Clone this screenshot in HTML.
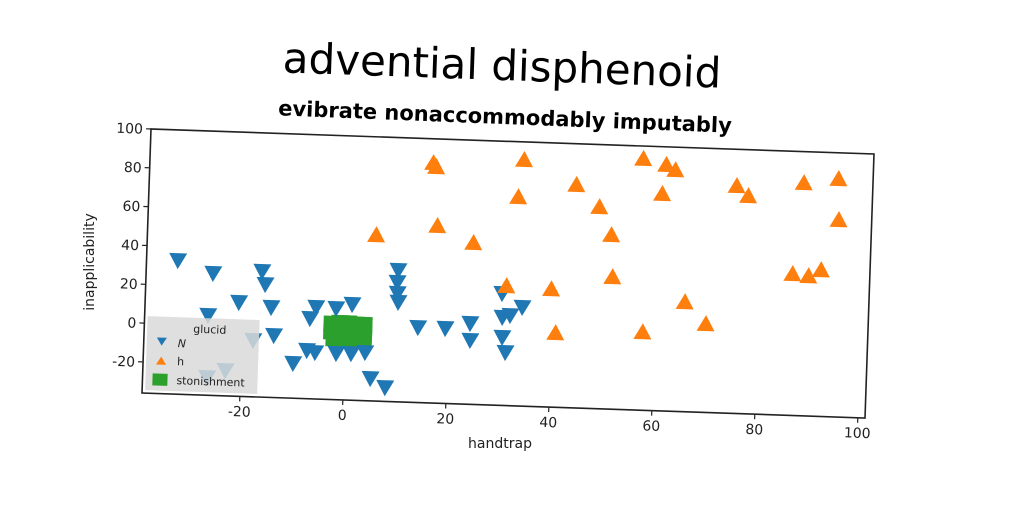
<!DOCTYPE html>
<html><head><meta charset="utf-8"><style>
html,body{margin:0;padding:0;background:#fff;}
svg{display:block;}
text{font-family:"DejaVu Sans","Liberation Sans",sans-serif;}
</style></head><body>
<svg id="chart" width="1024" height="512" viewBox="0 0 1024 512">
  <text x="502" y="80" font-size="42" text-anchor="middle" transform="rotate(2 502 68)" fill="#000">advential disphenoid</text>
  <text x="505" y="124" font-size="21" font-weight="bold" text-anchor="middle" transform="rotate(2.2 505 118)" fill="#000">evibrate nonaccommodably imputably</text>
  <g id="axes" transform="matrix(1,0.0346,-0.0341,1,151,129)">
    <rect x="0" y="0" width="723" height="264" fill="#fff" stroke="#222" stroke-width="1.6"/>
    <g id="xticks"></g><g id="yticks"></g>
    <g id="marks"></g>
    <g id="legend">
      <rect x="3" y="187" width="112" height="74" fill="#d9d9d9" fill-opacity="0.85"/>
      <text x="49" y="202" font-size="11" fill="#222">glucid</text>
      <path d="M13,208 L23,208 L18,216 Z" fill="#1f77b4"/>
      <text x="34" y="217" font-size="11" font-style="italic" fill="#222">N</text>
      <path d="M13,235 L23,235 L18,227 Z" fill="#ff7f0e"/>
      <text x="34" y="235" font-size="11" fill="#222">h</text>
      <rect x="10" y="244" width="15" height="12" fill="#2ca02c"/>
      <text x="34" y="254" font-size="11" fill="#222">stonishment</text>
    </g>
  </g>
  <text x="500" y="448" font-size="14" text-anchor="middle" fill="#222">handtrap</text>
  <text x="94" y="262" font-size="14" text-anchor="middle" transform="rotate(-90 94 262)" fill="#222">inapplicability</text>
</svg>
<script>
const xTicks=[-20,0,20,40,60,80,100];
const yTicks=[-20,0,20,40,60,80,100];
const nX=[-32.9,-26,-20.8,-26.7,-17.8,-26.5,-23,-16.5,-15.8,-14.5,-13.8,-9.9,-7.3,-5.7,-6.9,-5.8,-1.9,1.2,-1.6,1.3,4.0,5.2,8.1,9.9,9.8,9.9,10.1,14.1,19.4,24.2,24.3,30.4,31.9,34.2,30.5,31.2,30.2];
const nY=[33,27,12.5,5.3,-6.8,-26.7,-22.8,28.9,22.2,10.5,-3.9,-17.9,-11,-11.9,5.5,11.3,11.1,13.5,-12,-11.8,-11,-24.3,-28.7,31.8,25.6,20,15.4,2.8,2.8,5.8,-2.9,9.5,10.6,15,-0.8,-8.5,21.8];
const hX=[16,16.6,33.6,32.7,43.9,48.5,51,51.5,56.7,61.2,63,60.6,75,77.3,88,94.7,95,86.4,89.5,91.9,17.2,24.3,5.4,31,39.7,57.7,40.8,69.9,65.7];
const hY=[87.5,85.5,90.7,71.5,78.8,67.8,53.6,32,93.4,90.7,88.2,75.7,81.1,76.1,83.8,86.5,65.4,36.8,36,39.3,55.2,47.1,49.4,25.5,24.7,4.2,2.2,9.5,20.4];
const sX=[-2.5,-1,0.5,2,3.5,-2.5,-1,0.5,2,3.5,-2,0,2,3.5];
const sY=[3,3.5,3.5,3,3,-1,-1,-0.5,-1,-1,-4.5,-5,-4.5,-4];
const W=723,H=264,X0=-39,X1=101.4,Y0=-36,Y1=100;
const sx=x=>(x-X0)/(X1-X0)*W;
const sy=y=>(Y1-y)/(Y1-Y0)*H;
const NS="http://www.w3.org/2000/svg";
function mk(tag,attrs,parent){const e=document.createElementNS(NS,tag);for(const k in attrs)e.setAttribute(k,attrs[k]);parent.appendChild(e);return e;}
const xt=document.getElementById('xticks'),yt=document.getElementById('yticks'),mg=document.getElementById('marks');
xTicks.forEach(t=>{const u=sx(t);
 const l=mk('line',{x1:u,y1:H,x2:u,y2:H+5,stroke:'#222','stroke-width':1.2},xt);
 
 
 const tx=mk('text',{x:u,y:H+20,'font-size':14,'text-anchor':'middle',fill:'#222'},xt);tx.textContent=t;
 
 });
yTicks.forEach(t=>{const v=sy(t);
 const l=mk('line',{x1:-5,y1:v,x2:0,y2:v,stroke:'#222','stroke-width':1.2},yt);
 
 
 const tx=mk('text',{x:-8,y:v+5,'font-size':14,'text-anchor':'end',fill:'#222'},yt);tx.textContent=t;
 
 });
sX.forEach((x,i)=>{const u=sx(x),v=sy(sY[i]);
 const r=mk('rect',{x:u-9,y:v-8,width:18,height:16,fill:'#2ca02c'},mg);
 
 });
nX.forEach((x,i)=>{const u=sx(x),v=sy(nY[i]);
 const p=mk('path',{d:`M${u-9},${v-7} L${u+9},${v-7} L${u},${v+9} Z`,fill:'#1f77b4'},mg);
 
 });
hX.forEach((x,i)=>{const u=sx(x),v=sy(hY[i]);
 const p=mk('path',{d:`M${u-9},${v+7} L${u+9},${v+7} L${u},${v-9} Z`,fill:'#ff7f0e'},mg);
 
 });
</script>
</body></html>
